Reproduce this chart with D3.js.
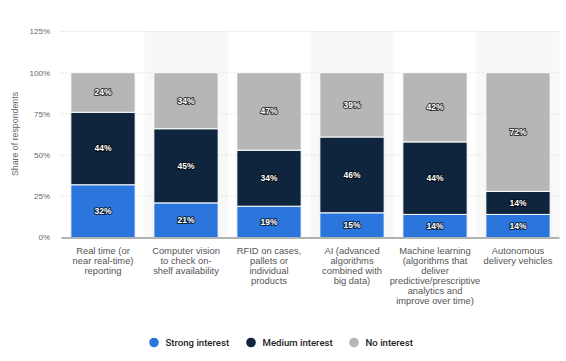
<!DOCTYPE html>
<html>
<head>
<meta charset="utf-8">
<script src="https://cdn.jsdelivr.net/npm/d3@7"></script>
<style>
  html, body { margin: 0; padding: 0; background: #ffffff; }
  svg text { font-family: "Liberation Sans", Arial, sans-serif; }
</style>
</head>
<body>
<div id="chart"></div>
<script>
// Data.
const categories = [
  ['Real time (or', 'near real-time)', 'reporting'],
  ['Computer vision', 'to check on-', 'shelf availability'],
  ['RFID on cases,', 'pallets or', 'individual', 'products'],
  ['AI (advanced', 'algorithms', 'combined with', 'big data)'],
  ['Machine learning', '(algorithms that', 'deliver', 'predictive/prescriptive', 'analytics and', 'improve over time)'],
  ['Autonomous', 'delivery vehicles']
];
const strongInterest = [32, 21, 19, 15, 14, 14];
const mediumInterest = [44, 45, 34, 46, 44, 14];
const noInterest = [24, 34, 47, 39, 42, 72];
const seriesNames = ['Strong interest', 'Medium interest', 'No interest'];
const seriesColors = ['#2a76dd', '#0f253d', '#b6b6b6'];
const yTicks = [0, 25, 50, 75, 100, 125];

// Dimensions.
const width = 566;
const height = 361;
const plot = { left: 61.5, right: 559.5, top: 31.5, bottom: 237.5 };

const rows = categories.map((c, i) => ({
  idx: i,
  s0: strongInterest[i],
  s1: mediumInterest[i],
  s2: noInterest[i]
}));

const x = d3.scaleBand()
  .domain(d3.range(categories.length))
  .range([plot.left, plot.right])
  .paddingInner(0.225)
  .paddingOuter(0.1125);

const band = d3.scaleBand()
  .domain(d3.range(categories.length))
  .range([plot.left, plot.right]);

const y = d3.scaleLinear()
  .domain([0, 125])
  .range([plot.bottom, plot.top]);

const svg = d3.select('#chart')
  .append('svg')
  .attr('width', width)
  .attr('height', height);

// Alternating band shading.
svg.append('g')
  .selectAll('rect')
  .data(rows.filter(d => d.idx % 2 === 1))
  .join('rect')
  .attr('x', d => band(d.idx))
  .attr('y', y(125))
  .attr('width', band.bandwidth())
  .attr('height', y(0) - y(125))
  .attr('fill', '#f8f8f8');

// Gridlines.
svg.append('g')
  .selectAll('line')
  .data(yTicks.filter(t => t > 0))
  .join('line')
  .attr('x1', plot.left)
  .attr('x2', plot.right)
  .attr('y1', d => y(d))
  .attr('y2', d => y(d))
  .attr('stroke', '#d9d9d9')
  .attr('stroke-width', 0.8)
  .attr('stroke-dasharray', '2,2');

// Y tick labels.
svg.append('g')
  .selectAll('text')
  .data(yTicks)
  .join('text')
  .attr('x', 50)
  .attr('y', d => y(d))
  .attr('dy', '0.35em')
  .attr('text-anchor', 'end')
  .attr('font-size', 8)
  .attr('fill', '#666666')
  .text(d => d + '%');

// Y axis title.
svg.append('text')
  .attr('transform', 'translate(18,134) rotate(-90)')
  .attr('text-anchor', 'middle')
  .attr('font-size', 8.8)
  .attr('fill', '#666666')
  .text('Share of respondents');

// Stacked bars.
const stack = d3.stack().keys(['s0', 's1', 's2']);
const stacked = stack(rows);

const layers = svg.append('g')
  .selectAll('g')
  .data(stacked)
  .join('g')
  .attr('fill', (d, i) => seriesColors[i]);

layers.selectAll('rect')
  .data(d => d)
  .join('rect')
  .attr('x', d => x(d.data.idx))
  .attr('y', d => y(d[1]))
  .attr('width', x.bandwidth())
  .attr('height', d => y(d[0]) - y(d[1]))
  .attr('stroke', '#ffffff')
  .attr('stroke-width', 1);

// Value labels.
layers.selectAll('text')
  .data(d => d)
  .join('text')
  .attr('x', d => x(d.data.idx) + x.bandwidth() / 2)
  .attr('y', d => y((d[0] + d[1]) / 2))
  .attr('dy', '0.35em')
  .attr('text-anchor', 'middle')
  .attr('font-size', 8.5)
  .attr('font-weight', 'bold')
  .attr('fill', '#ffffff')
  .attr('stroke', 'rgba(0,0,0,0.7)')
  .attr('stroke-width', 2)
  .attr('stroke-linejoin', 'round')
  .attr('paint-order', 'stroke')
  .text(d => (d[1] - d[0]) + '%');

// Baseline.
svg.append('line')
  .attr('x1', plot.left)
  .attr('x2', plot.right)
  .attr('y1', y(0) + 0.5)
  .attr('y2', y(0) + 0.5)
  .attr('stroke', '#999999')
  .attr('stroke-width', 1.5);

// Category labels.
const catLabels = svg.append('g')
  .selectAll('text')
  .data(categories)
  .join('text')
  .attr('x', (d, i) => x(i) + x.bandwidth() / 2)
  .attr('y', 254)
  .attr('text-anchor', 'middle')
  .attr('font-size', 9.4)
  .attr('fill', '#555555');

catLabels.selectAll('tspan')
  .data(d => d)
  .join('tspan')
  .attr('x', function () { return this.parentNode.getAttribute('x'); })
  .attr('dy', (d, i) => i === 0 ? 0 : 10)
  .text(d => d);

// Legend.
const legendX = [154, 251, 354];
const legend = svg.append('g')
  .selectAll('g')
  .data(seriesNames)
  .join('g')
  .attr('transform', (d, i) => 'translate(' + legendX[i] + ',342.5)');

legend.append('circle')
  .attr('r', 4.8)
  .attr('fill', (d, i) => seriesColors[i]);

legend.append('text')
  .attr('x', 11.5)
  .attr('dy', '0.35em')
  .attr('font-size', 9.6)
  .attr('fill', '#222222')
  .style('font-family', 'Roboto, "Liberation Sans", Arial, sans-serif')
  .style('font-weight', 500)
  .text(d => d);
</script>
</body>
</html>
